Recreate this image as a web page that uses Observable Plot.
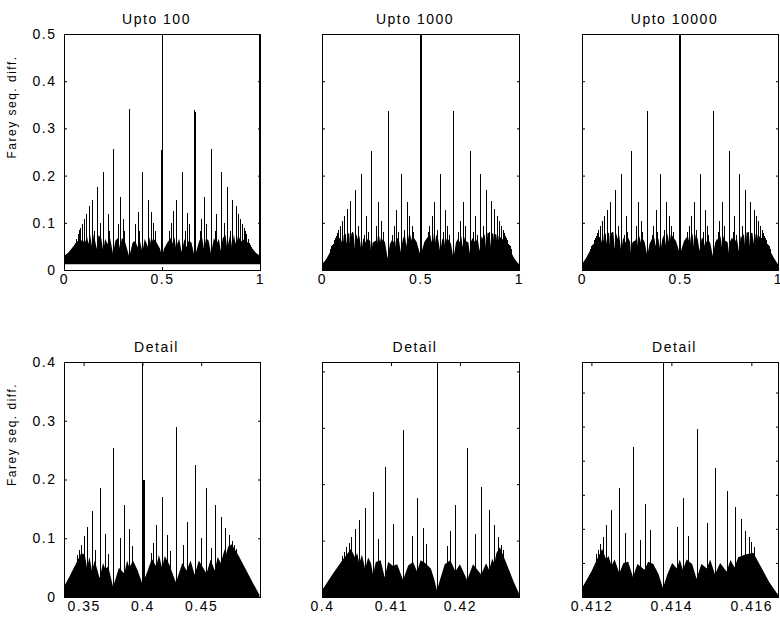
<!DOCTYPE html>
<html><head><meta charset="utf-8">
<script src="https://cdn.jsdelivr.net/npm/d3@7"></script>
<script src="https://cdn.jsdelivr.net/npm/@observablehq/plot@0.6"></script>
<style>
html,body{margin:0;padding:0;background:#fff;}
#chart{position:relative;width:780px;height:620px;overflow:hidden;background:#fff;}
#chart svg{position:absolute;overflow:visible;background:transparent;}
</style></head><body><div id="chart"></div>
<script>
// ---------- tick values & labels ----------
const titles = ["Upto 100", "Upto 1000", "Upto 10000", "Detail", "Detail", "Detail"];
const yLabel = "Farey seq. diff.";
const topXTicks = [0, 0.5, 1];
const topXLabels = ["0", "0.5", "1"];
const topYTicks = [0, 0.1, 0.2, 0.3, 0.4, 0.5];
const topYLabels = ["0", "0.1", "0.2", "0.3", "0.4", "0.5"];
const d1XTicks = [0.35, 0.4, 0.45];
const d1XLabels = ["0.35", "0.4", "0.45"];
const d2XTicks = [0.4, 0.41, 0.42];
const d2XLabels = ["0.4", "0.41", "0.42"];
const d3XTicks = [0.412, 0.414, 0.416];
const d3XLabels = ["0.412", "0.414", "0.416"];
const d1YTicks = [0, 0.1, 0.2, 0.3, 0.4];
const d1YLabels = ["0", "0.1", "0.2", "0.3", "0.4"];
const d2YTicks = [0, 0.1, 0.2, 0.3, 0.4];
const d3YTicks = [0, 0.06, 0.12, 0.18, 0.24, 0.3, 0.36];

// ---------- Upto 100 ----------
const aFloor = 0.012;
const aSpikeX = [0, 0.045, 0.05, 0.056, 0.063, 0.071, 0.077, 0.083, 0.091, 0.1, 0.111, 0.125, 0.143, 0.154, 0.167, 0.182, 0.2, 0.222, 0.231, 0.25, 0.273, 0.286, 0.3, 0.308, 0.333, 0.364, 0.375, 0.385, 0.4, 0.429, 0.444, 0.455, 0.462, 0.494, 0.497, 0.5,
  0.538, 0.545, 0.556, 0.571, 0.6, 0.615, 0.625, 0.636, 0.664, 0.667, 0.692, 0.7, 0.714, 0.727, 0.75, 0.769, 0.778, 0.8, 0.818, 0.833, 0.846, 0.857, 0.875, 0.889, 0.9, 0.909, 0.917, 0.923, 0.929, 0.937, 0.944, 0.95, 0.955, 0.995, 1];
const aSpikeY = [0.5, 0.048, 0.053, 0.058, 0.066, 0.077, 0.084, 0.09, 0.098, 0.108, 0.119, 0.135, 0.149, 0.082, 0.176, 0.1, 0.208, 0.118, 0.082, 0.257, 0.098, 0.155, 0.108, 0.082, 0.341, 0.098, 0.122, 0.082, 0.208, 0.148, 0.122, 0.1, 0.082, 0.254, 0.254, 0.5,
  0.082, 0.1, 0.126, 0.148, 0.208, 0.082, 0.12, 0.098, 0.34, 0.335, 0.082, 0.108, 0.155, 0.098, 0.257, 0.082, 0.119, 0.208, 0.1, 0.176, 0.082, 0.149, 0.135, 0.119, 0.108, 0.098, 0.09, 0.083, 0.077, 0.066, 0.058, 0.053, 0.048, 0.5, 0.5];
const aMassX = [0, 0.02, 0.04, 0.06, 0.08, 0.1, 0.105, 0.111, 0.117, 0.125, 0.133, 0.143, 0.152, 0.167, 0.176, 0.19, 0.2, 0.21, 0.222, 0.235, 0.25, 0.262, 0.275, 0.286, 0.295, 0.31, 0.333, 0.35, 0.364, 0.375, 0.385, 0.4, 0.412, 0.429, 0.437, 0.444, 0.455, 0.47, 0.49, 0.5,
  0.51, 0.53, 0.545, 0.556, 0.563, 0.571, 0.588, 0.6, 0.615, 0.625, 0.636, 0.65, 0.667, 0.69, 0.705, 0.714, 0.725, 0.738, 0.75, 0.765, 0.778, 0.79, 0.8, 0.81, 0.824, 0.833, 0.848, 0.857, 0.867, 0.875, 0.883, 0.889, 0.895, 0.9, 0.92, 0.94, 0.96, 0.98, 1];
const aMassY = [0.03, 0.036, 0.046, 0.057, 0.065, 0.06, 0.07, 0.058, 0.072, 0.055, 0.075, 0.05, 0.076, 0.045, 0.074, 0.068, 0.04, 0.066, 0.055, 0.068, 0.035, 0.062, 0.068, 0.045, 0.068, 0.062, 0.028, 0.058, 0.062, 0.048, 0.066, 0.038, 0.066, 0.048, 0.07, 0.055, 0.068, 0.06, 0.045, 0.028,
  0.045, 0.06, 0.068, 0.055, 0.07, 0.048, 0.066, 0.038, 0.066, 0.048, 0.062, 0.058, 0.028, 0.062, 0.068, 0.045, 0.068, 0.062, 0.035, 0.068, 0.055, 0.066, 0.04, 0.068, 0.074, 0.045, 0.076, 0.05, 0.075, 0.055, 0.072, 0.058, 0.07, 0.06, 0.065, 0.057, 0.046, 0.036, 0.03];

// ---------- Upto 1000 ----------
const bFloor = 0;
const bSpikeX = [0, 0.04, 0.043, 0.045, 0.048, 0.05, 0.053, 0.056, 0.059, 0.063, 0.067, 0.071, 0.077, 0.083, 0.091, 0.1, 0.111, 0.125, 0.143, 0.154, 0.167, 0.182, 0.2, 0.214, 0.222, 0.231, 0.25, 0.273, 0.286, 0.3, 0.308, 0.333, 0.357, 0.364, 0.375, 0.385, 0.4, 0.417, 0.429, 0.444, 0.455, 0.462, 0.497, 0.5,
  0.538, 0.545, 0.556, 0.571, 0.583, 0.6, 0.615, 0.625, 0.636, 0.643, 0.667, 0.692, 0.7, 0.714, 0.727, 0.75, 0.769, 0.778, 0.786, 0.8, 0.818, 0.833, 0.846, 0.857, 0.875, 0.889, 0.9, 0.909, 0.917, 0.923, 0.929, 0.933, 0.937, 0.941, 0.944, 0.947, 0.95, 0.952, 0.955, 0.957, 0.96, 0.999];
const bSpikeY = [0.5, 0.042, 0.045, 0.047, 0.05, 0.052, 0.054, 0.056, 0.059, 0.063, 0.067, 0.072, 0.078, 0.085, 0.094, 0.104, 0.115, 0.13, 0.146, 0.08, 0.169, 0.094, 0.204, 0.074, 0.115, 0.08, 0.252, 0.094, 0.145, 0.104, 0.08, 0.336, 0.074, 0.094, 0.128, 0.08, 0.204, 0.085, 0.145, 0.115, 0.094, 0.08, 0.5, 0.5,
  0.08, 0.094, 0.115, 0.145, 0.085, 0.204, 0.08, 0.128, 0.094, 0.074, 0.336, 0.08, 0.104, 0.145, 0.094, 0.252, 0.08, 0.115, 0.074, 0.204, 0.094, 0.169, 0.08, 0.146, 0.13, 0.115, 0.104, 0.094, 0.085, 0.078, 0.072, 0.067, 0.063, 0.059, 0.056, 0.054, 0.052, 0.05, 0.047, 0.045, 0.042, 0.5];
const bMassX = [0, 0.02, 0.04, 0.06, 0.08, 0.095, 0.1, 0.105, 0.108, 0.111, 0.115, 0.121, 0.125, 0.13, 0.138, 0.143, 0.149, 0.16, 0.167, 0.174, 0.182, 0.19, 0.2, 0.21, 0.222, 0.235, 0.245, 0.25, 0.257, 0.273, 0.28, 0.286, 0.293, 0.3, 0.31, 0.32, 0.333, 0.345, 0.357, 0.364, 0.37, 0.375, 0.381, 0.39, 0.4, 0.41, 0.42, 0.429, 0.436, 0.444, 0.45, 0.455, 0.46, 0.48, 0.495, 0.5,
  0.505, 0.52, 0.54, 0.545, 0.55, 0.556, 0.564, 0.571, 0.58, 0.59, 0.6, 0.61, 0.619, 0.625, 0.63, 0.636, 0.643, 0.655, 0.667, 0.68, 0.69, 0.7, 0.707, 0.714, 0.72, 0.727, 0.743, 0.75, 0.755, 0.765, 0.778, 0.79, 0.8, 0.81, 0.818, 0.826, 0.833, 0.84, 0.851, 0.857, 0.862, 0.87, 0.875, 0.879, 0.885, 0.889, 0.892, 0.895, 0.9, 0.905, 0.92, 0.94, 0.96, 0.98, 1];
const bMassY = [0.012, 0.022, 0.037, 0.052, 0.064, 0.07, 0.058, 0.072, 0.074, 0.06, 0.075, 0.077, 0.055, 0.077, 0.078, 0.05, 0.078, 0.079, 0.045, 0.077, 0.065, 0.072, 0.04, 0.068, 0.058, 0.068, 0.06, 0.035, 0.058, 0.062, 0.072, 0.048, 0.072, 0.058, 0.066, 0.058, 0.025, 0.055, 0.065, 0.058, 0.068, 0.05, 0.068, 0.065, 0.038, 0.065, 0.075, 0.05, 0.078, 0.058, 0.075, 0.062, 0.072, 0.06, 0.038, 0.03,
  0.038, 0.06, 0.072, 0.062, 0.075, 0.058, 0.078, 0.05, 0.075, 0.065, 0.038, 0.065, 0.068, 0.05, 0.068, 0.058, 0.065, 0.055, 0.025, 0.058, 0.066, 0.058, 0.072, 0.048, 0.072, 0.062, 0.058, 0.035, 0.06, 0.068, 0.058, 0.068, 0.04, 0.072, 0.065, 0.077, 0.045, 0.079, 0.078, 0.05, 0.078, 0.077, 0.055, 0.077, 0.075, 0.06, 0.074, 0.072, 0.058, 0.07, 0.064, 0.052, 0.037, 0.022, 0.012];

// ---------- Upto 10000 ----------
const cFloor = 0;
const cSpikeX = [0, 0.04, 0.043, 0.045, 0.048, 0.05, 0.053, 0.056, 0.059, 0.063, 0.067, 0.071, 0.077, 0.083, 0.091, 0.1, 0.111, 0.125, 0.143, 0.154, 0.167, 0.182, 0.2, 0.214, 0.222, 0.231, 0.25, 0.273, 0.286, 0.3, 0.308, 0.333, 0.357, 0.364, 0.375, 0.385, 0.4, 0.417, 0.429, 0.444, 0.455, 0.462, 0.497, 0.5,
  0.538, 0.545, 0.556, 0.571, 0.583, 0.6, 0.615, 0.625, 0.636, 0.643, 0.667, 0.692, 0.7, 0.714, 0.727, 0.75, 0.769, 0.778, 0.786, 0.8, 0.818, 0.833, 0.846, 0.857, 0.875, 0.889, 0.9, 0.909, 0.917, 0.923, 0.929, 0.933, 0.937, 0.941, 0.944, 0.947, 0.95, 0.952, 0.955, 0.957, 0.96, 0.9999];
const cSpikeY = [0.5, 0.042, 0.045, 0.047, 0.05, 0.052, 0.054, 0.056, 0.059, 0.063, 0.067, 0.072, 0.078, 0.085, 0.093, 0.103, 0.114, 0.128, 0.145, 0.08, 0.169, 0.093, 0.203, 0.074, 0.114, 0.08, 0.252, 0.093, 0.145, 0.103, 0.08, 0.336, 0.074, 0.093, 0.127, 0.08, 0.203, 0.085, 0.145, 0.114, 0.093, 0.08, 0.5, 0.5,
  0.08, 0.093, 0.114, 0.145, 0.085, 0.203, 0.08, 0.127, 0.093, 0.074, 0.336, 0.08, 0.103, 0.145, 0.093, 0.252, 0.08, 0.114, 0.074, 0.203, 0.093, 0.169, 0.08, 0.145, 0.128, 0.114, 0.103, 0.093, 0.085, 0.078, 0.072, 0.067, 0.063, 0.059, 0.056, 0.054, 0.052, 0.05, 0.047, 0.045, 0.042, 0.5];
const cMassX = [0, 0.02, 0.04, 0.06, 0.08, 0.095, 0.1, 0.105, 0.108, 0.111, 0.115, 0.121, 0.125, 0.13, 0.138, 0.143, 0.149, 0.16, 0.167, 0.174, 0.182, 0.19, 0.2, 0.21, 0.222, 0.235, 0.245, 0.25, 0.257, 0.273, 0.28, 0.286, 0.293, 0.3, 0.31, 0.32, 0.333, 0.345, 0.357, 0.364, 0.37, 0.375, 0.381, 0.39, 0.4, 0.41, 0.42, 0.429, 0.436, 0.444, 0.45, 0.455, 0.46, 0.48, 0.495, 0.5,
  0.505, 0.52, 0.54, 0.545, 0.55, 0.556, 0.564, 0.571, 0.58, 0.59, 0.6, 0.61, 0.619, 0.625, 0.63, 0.636, 0.643, 0.655, 0.667, 0.68, 0.69, 0.7, 0.707, 0.714, 0.72, 0.727, 0.743, 0.75, 0.755, 0.765, 0.778, 0.79, 0.8, 0.81, 0.818, 0.826, 0.833, 0.84, 0.851, 0.857, 0.862, 0.87, 0.875, 0.879, 0.885, 0.889, 0.892, 0.895, 0.9, 0.905, 0.92, 0.94, 0.96, 0.98, 1];
const cMassY = [0.012, 0.025, 0.04, 0.055, 0.066, 0.072, 0.058, 0.074, 0.075, 0.06, 0.076, 0.078, 0.055, 0.078, 0.079, 0.05, 0.079, 0.08, 0.045, 0.078, 0.066, 0.073, 0.04, 0.069, 0.058, 0.069, 0.06, 0.035, 0.059, 0.063, 0.073, 0.048, 0.073, 0.058, 0.067, 0.059, 0.03, 0.056, 0.066, 0.058, 0.069, 0.05, 0.069, 0.066, 0.04, 0.066, 0.076, 0.05, 0.079, 0.058, 0.076, 0.062, 0.073, 0.061, 0.04, 0.034,
  0.04, 0.061, 0.073, 0.062, 0.076, 0.058, 0.079, 0.05, 0.076, 0.066, 0.04, 0.066, 0.069, 0.05, 0.069, 0.058, 0.066, 0.056, 0.03, 0.059, 0.067, 0.058, 0.073, 0.048, 0.073, 0.063, 0.059, 0.035, 0.06, 0.069, 0.058, 0.069, 0.04, 0.073, 0.066, 0.078, 0.045, 0.08, 0.079, 0.05, 0.079, 0.078, 0.055, 0.078, 0.076, 0.06, 0.075, 0.074, 0.058, 0.072, 0.066, 0.055, 0.04, 0.025, 0.012];

// ---------- Detail 1 (1/3 .. 1/2) ----------
const dFloor = 0;
const dSpikeX = [0.3448, 0.3462, 0.3478, 0.35, 0.3529, 0.3571, 0.36, 0.3636, 0.3684, 0.3704, 0.375, 0.381, 0.3846, 0.3889, 0.3913, 0.3995, 0.4005, 0.401, 0.4074, 0.4091, 0.4118, 0.4167, 0.4211, 0.4231, 0.4286, 0.4348, 0.4375, 0.4444, 0.45, 0.4545, 0.4583, 0.4615, 0.4667, 0.4706, 0.4737, 0.4762, 0.4783, 0.48];
const dSpikeY = [0.072, 0.08, 0.088, 0.104, 0.12, 0.146, 0.08, 0.186, 0.108, 0.074, 0.253, 0.1, 0.157, 0.115, 0.087, 0.4, 0.199, 0.199, 0.075, 0.092, 0.122, 0.17, 0.106, 0.078, 0.29, 0.088, 0.127, 0.225, 0.101, 0.186, 0.084, 0.157, 0.137, 0.118, 0.106, 0.096, 0.089, 0.082];
const dMassX = [0.3334, 0.338, 0.343, 0.348, 0.351, 0.3529, 0.355, 0.3571, 0.3595, 0.3636, 0.3665, 0.3684, 0.371, 0.374, 0.375, 0.377, 0.38, 0.3846, 0.387, 0.3889, 0.392, 0.396, 0.4, 0.404, 0.408, 0.4118, 0.414, 0.4167, 0.419, 0.423, 0.4275, 0.4286, 0.431, 0.434, 0.4375, 0.441, 0.4444, 0.448, 0.4545, 0.458, 0.4615, 0.464, 0.4667, 0.47, 0.4706, 0.473, 0.476, 0.482, 0.488, 0.494, 0.4995];
const dMassY = [0.018, 0.035, 0.055, 0.075, 0.072, 0.05, 0.068, 0.045, 0.062, 0.032, 0.058, 0.048, 0.052, 0.026, 0.018, 0.03, 0.05, 0.04, 0.062, 0.05, 0.062, 0.045, 0.022, 0.042, 0.065, 0.052, 0.072, 0.05, 0.07, 0.055, 0.03, 0.025, 0.04, 0.058, 0.045, 0.062, 0.038, 0.062, 0.04, 0.064, 0.045, 0.068, 0.058, 0.082, 0.07, 0.086, 0.09, 0.07, 0.047, 0.024, 0.004];

// ---------- Detail 2 (2/5 .. 3/7) ----------
const eFloor = 0;
const eSpikeX = [0.4029, 0.4032, 0.4035, 0.40385, 0.40426, 0.40476, 0.40541, 0.40625, 0.40741, 0.40816, 0.40909, 0.41026, 0.41176, 0.41304, 0.41379, 0.41463, 0.41509, 0.41667, 0.41818, 0.4186, 0.41935, 0.42105, 0.42222, 0.42308, 0.42424, 0.425, 0.42553, 0.42593, 0.42623];
const eSpikeY = [0.072, 0.08, 0.088, 0.096, 0.106, 0.121, 0.137, 0.158, 0.187, 0.102, 0.23, 0.13, 0.296, 0.109, 0.175, 0.123, 0.094, 0.4167, 0.091, 0.117, 0.163, 0.265, 0.111, 0.195, 0.154, 0.127, 0.107, 0.093, 0.083];
const eMassX = [0.4, 0.4015, 0.403, 0.4042, 0.4048, 0.4051, 0.4054, 0.4058, 0.40625, 0.4067, 0.4071, 0.40741, 0.4078, 0.4085, 0.40909, 0.4096, 0.4103, 0.4109, 0.41176, 0.4125, 0.4132, 0.41379, 0.4143, 0.415, 0.4158, 0.4163, 0.41667, 0.4171, 0.4178, 0.4186, 0.41935, 0.42, 0.42105, 0.4219, 0.42308, 0.4238, 0.42424, 0.4247, 0.425, 0.4253, 0.4258, 0.4268, 0.4278, 0.42857];
const eMassY = [0.012, 0.04, 0.066, 0.085, 0.07, 0.078, 0.06, 0.075, 0.05, 0.07, 0.06, 0.04, 0.062, 0.065, 0.035, 0.062, 0.055, 0.058, 0.03, 0.056, 0.062, 0.045, 0.065, 0.06, 0.05, 0.03, 0.012, 0.03, 0.058, 0.065, 0.045, 0.058, 0.03, 0.058, 0.04, 0.06, 0.048, 0.068, 0.06, 0.078, 0.088, 0.058, 0.027, 0.006];

// ---------- Detail 3 (7/17 .. 5/12) ----------
const fFloor = 0;
const fSpikeX = [0.41212, 0.41216, 0.41221, 0.41228, 0.41237, 0.4125, 0.4127, 0.41284, 0.41304, 0.41322, 0.41333, 0.41346, 0.41379, 0.41414, 0.41429, 0.41441, 0.41463, 0.41489, 0.41509, 0.41538, 0.41558, 0.41573, 0.41584, 0.41593, 0.416, 0.41606];
const fSpikeY = [0.075, 0.083, 0.093, 0.106, 0.127, 0.153, 0.192, 0.113, 0.264, 0.1, 0.163, 0.118, 0.4138, 0.124, 0.175, 0.108, 0.296, 0.13, 0.228, 0.186, 0.158, 0.137, 0.117, 0.105, 0.096, 0.088];
const fMassX = [0.411765, 0.412, 0.41215, 0.41227, 0.41237, 0.41243, 0.4125, 0.41258, 0.4127, 0.4128, 0.41292, 0.41304, 0.41315, 0.41333, 0.41342, 0.41355, 0.41368, 0.41379, 0.4139, 0.41402, 0.41414, 0.41421, 0.41429, 0.41438, 0.41452, 0.41463, 0.41475, 0.41489, 0.41497, 0.41509, 0.41522, 0.41538, 0.41548, 0.41558, 0.41567, 0.41585, 0.41605, 0.41625, 0.41645, 0.416667];
const fMassY = [0.016, 0.045, 0.068, 0.085, 0.066, 0.072, 0.055, 0.066, 0.042, 0.06, 0.062, 0.035, 0.058, 0.048, 0.062, 0.058, 0.04, 0.016, 0.04, 0.06, 0.05, 0.066, 0.048, 0.066, 0.058, 0.032, 0.058, 0.05, 0.066, 0.04, 0.06, 0.045, 0.065, 0.052, 0.07, 0.075, 0.078, 0.052, 0.026, 0.004];

// ---------- panel setup ----------
const panels = [
  {row: 0, col: 0, title: titles[0], xd: [0, 1], yd: [0, 0.5], xt: topXTicks, xl: topXLabels, yt: topYTicks, yl: topYLabels, sx: aSpikeX, sy: aSpikeY, mx: aMassX, my: aMassY, floor: aFloor},
  {row: 0, col: 1, title: titles[1], xd: [0, 1], yd: [0, 0.5], xt: topXTicks, xl: topXLabels, yt: topYTicks, yl: null, sx: bSpikeX, sy: bSpikeY, mx: bMassX, my: bMassY, floor: bFloor},
  {row: 0, col: 2, title: titles[2], xd: [0, 1], yd: [0, 0.5], xt: topXTicks, xl: topXLabels, yt: topYTicks, yl: null, sx: cSpikeX, sy: cSpikeY, mx: cMassX, my: cMassY, floor: cFloor},
  {row: 1, col: 0, title: titles[3], xd: [0.33333, 0.5], yd: [0, 0.4], xt: d1XTicks, xl: d1XLabels, yt: d1YTicks, yl: d1YLabels, sx: dSpikeX, sy: dSpikeY, mx: dMassX, my: dMassY, floor: dFloor},
  {row: 1, col: 1, title: titles[4], xd: [0.4, 0.428571], yd: [0, 0.41667], xt: d2XTicks, xl: d2XLabels, yt: d2YTicks, yl: null, sx: eSpikeX, sy: eSpikeY, mx: eMassX, my: eMassY, floor: eFloor},
  {row: 1, col: 2, title: titles[5], xd: [0.411765, 0.416667], yd: [0, 0.41379], xt: d3XTicks, xl: d3XLabels, yt: d3YTicks, yl: null, sx: fSpikeX, sy: fSpikeY, mx: fMassX, my: fMassY, floor: fFloor}
];

const colGeom = [{left: 0, mL: 64, w: 196}, {left: 262, mL: 60, w: 197}, {left: 521, mL: 61, w: 196}];
const rowGeom = [{top: 0, mT: 34, h: 236, mB: 30}, {top: 300, mT: 62, h: 235, mB: 23}];
const FONT = "'Liberation Sans', Arial, Helvetica, sans-serif";

function labeler(ticks, labels) {
  return d => {
    const i = ticks.findIndex(t => Math.abs(t - d) < 1e-9);
    return i < 0 ? "" : labels[i];
  };
}

const chart = document.getElementById("chart");
for (const p of panels) {
  const cg = colGeom[p.col], rg = rowGeom[p.row];
  const mR = 2;
  const spikes = p.sx.map((x, i) => ({x, lo: p.floor, hi: p.sy[i]}));
  const mass = p.mx.map((x, i) => ({x, lo: p.floor, hi: p.my[i]}));
  const marks = [
    Plot.areaY(mass, {x: "x", y1: "lo", y2: "hi", fill: "#000", curve: "linear", clip: true}),
    Plot.ruleX(spikes, {x: "x", y1: "lo", y2: "hi", stroke: "#000", strokeWidth: 1, shapeRendering: "crispEdges", clip: true}),
    Plot.frame({stroke: "#000", shapeRendering: "crispEdges"}),
    Plot.axisX(p.xt, {anchor: "bottom", tickSize: -3, tickFormat: () => "", label: null}),
    Plot.axisX(p.xt, {anchor: "top", tickSize: -3, tickFormat: () => "", label: null}),
    Plot.axisY(p.yt, {anchor: "left", tickSize: -3, tickFormat: () => "", label: null}),
    Plot.axisY(p.yt, {anchor: "right", tickSize: -3, tickFormat: () => "", label: null}),
    Plot.axisX(p.xt, {anchor: "bottom", tickSize: 0, tickPadding: 4, tickFormat: labeler(p.xt, p.xl), label: null, fontSize: 14}),
    Plot.text([p.title], {text: d => d, frameAnchor: "top", dy: -20, dx: -6, fontSize: 14})
  ];
  if (p.yl) {
    marks.push(Plot.axisY(p.yt, {anchor: "left", tickSize: 0, tickPadding: 8, tickFormat: labeler(p.yt, p.yl), label: null, fontSize: 14}));
    marks.push(Plot.text([yLabel], {text: d => d, frameAnchor: "left", rotate: -90, dx: -52, dy: 6, fontSize: 12}));
  }
  const svg = Plot.plot({
    width: cg.mL + cg.w + mR,
    height: rg.mT + rg.h + rg.mB,
    marginLeft: cg.mL, marginRight: mR, marginTop: rg.mT, marginBottom: rg.mB,
    x: {domain: p.xd, label: null},
    y: {domain: p.yd, label: null},
    style: {fontFamily: FONT, fontSize: "14px", letterSpacing: "1.5px", color: "#000", background: "transparent", overflow: "visible"},
    marks
  });
  svg.style.left = cg.left + "px";
  svg.style.top = rg.top + "px";
  chart.appendChild(svg);
}
</script></body></html>
